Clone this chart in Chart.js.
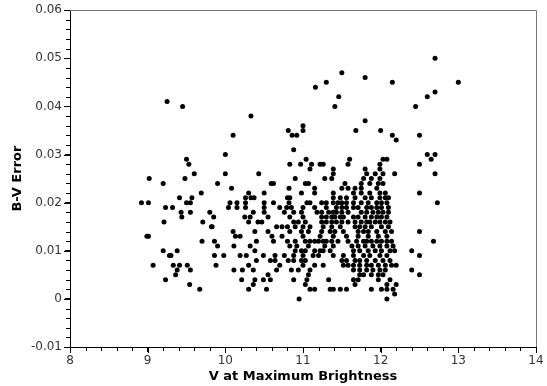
<!DOCTYPE html>
<html>
<head>
<meta charset="utf-8">
<script src="https://cdn.jsdelivr.net/npm/chart.js@4.4.0/dist/chart.umd.min.js"></script>
<style>
  html, body { margin: 0; padding: 0; background: #fff; }
</style>
</head>
<body>
<canvas id="scatter" width="547" height="386"></canvas>
<script>
// B-V error levels (values are quantised at 0.001) and the V magnitudes read at each level
const bvErrorLevels = [
  0.050, 0.047, 0.046, 0.045, 0.044, 0.043, 0.042, 0.041, 0.040, 0.038,
  0.037, 0.036, 0.035, 0.034, 0.033, 0.031, 0.030, 0.029, 0.028, 0.027,
  0.026, 0.025, 0.024, 0.023, 0.022, 0.021, 0.020, 0.019, 0.018, 0.017,
  0.016, 0.015, 0.014, 0.013, 0.012, 0.011, 0.010, 0.009, 0.008, 0.007,
  0.006, 0.005, 0.004, 0.003, 0.002, 0.001, 0.000
];
const vMagByLevel = [
  [12.70],
  [11.50],
  [11.80],
  [11.30, 12.15, 13.00],
  [11.16],
  [12.70],
  [11.46, 12.60],
  [9.25],
  [9.45, 11.41, 12.45],
  [10.33],
  [11.80],
  [11.00],
  [10.81, 11.00, 11.68, 12.00],
  [10.10, 10.86, 10.92, 12.15, 12.50],
  [12.20],
  [10.88],
  [10.00, 12.60, 12.70],
  [9.50, 11.04, 11.60, 12.03, 12.08, 12.65],
  [9.53, 10.83, 10.97, 11.11, 11.22, 11.26, 11.58, 11.99, 12.50],
  [11.09, 11.39, 11.80, 11.99],
  [9.60, 10.00, 10.43, 11.39, 11.82, 11.93, 12.03, 12.18, 12.70],
  [9.02, 9.48, 10.90, 11.28, 11.37, 11.78, 11.88, 11.99],
  [9.20, 9.90, 10.59, 10.62, 11.03, 11.07, 11.54, 11.75, 11.86, 11.97, 12.03],
  [10.08, 10.82, 11.15, 11.50, 11.58, 11.67, 11.75, 11.95],
  [9.69, 10.30, 10.50, 10.98, 11.15, 11.39, 11.65, 11.75, 11.86, 11.99, 12.06, 12.50],
  [9.41, 9.57, 10.26, 10.33, 10.37, 10.80, 10.83, 11.39, 11.48, 11.56, 11.67, 11.80, 11.88, 11.99, 12.06, 12.10],
  [8.92, 9.01, 9.50, 9.55, 10.06, 10.15, 10.26, 10.50, 10.62, 10.82, 11.05, 11.09, 11.24, 11.30, 11.39, 11.45, 11.50, 11.56, 11.65, 11.75, 11.84, 11.95, 12.01, 12.08, 12.73],
  [9.23, 9.32, 10.04, 10.15, 10.26, 10.50, 10.70, 10.79, 10.85, 11.00, 11.15, 11.30, 11.43, 11.50, 11.56, 11.65, 11.71, 11.82, 11.88, 11.95, 12.01, 12.10],
  [9.43, 9.55, 9.80, 10.36, 10.50, 10.76, 10.88, 10.98, 11.18, 11.24, 11.33, 11.39, 11.43, 11.50, 11.58, 11.75, 11.82, 11.90, 11.97, 12.03, 12.10],
  [9.44, 9.85, 10.25, 10.32, 10.55, 10.83, 11.00, 11.24, 11.30, 11.37, 11.41, 11.48, 11.52, 11.65, 11.71, 11.80, 11.88, 11.95, 12.01, 12.08],
  [9.21, 9.71, 10.30, 10.42, 10.47, 10.88, 10.94, 11.03, 11.24, 11.30, 11.37, 11.43, 11.50, 11.58, 11.67, 11.75, 11.82, 11.86, 11.93, 11.99, 12.06, 12.12],
  [9.82, 9.83, 10.66, 10.73, 10.80, 10.90, 11.00, 11.09, 11.26, 11.37, 11.48, 11.67, 11.73, 11.80, 11.88, 12.01, 12.10],
  [10.10, 10.38, 10.55, 10.83, 10.98, 11.07, 11.24, 11.35, 11.41, 11.52, 11.71, 11.78, 11.84, 11.95, 12.06, 12.14, 12.50],
  [8.99, 9.01, 10.13, 10.19, 10.60, 10.73, 11.00, 11.22, 11.39, 11.56, 11.71, 11.84, 11.97, 12.08],
  [9.70, 9.86, 10.40, 10.62, 10.80, 10.90, 11.03, 11.09, 11.15, 11.20, 11.26, 11.30, 11.37, 11.45, 11.58, 11.69, 11.78, 11.82, 11.88, 11.95, 12.01, 12.08, 12.14, 12.68],
  [9.90, 10.11, 10.32, 10.83, 10.92, 11.07, 11.28, 11.39, 11.63, 11.71, 11.80, 11.90, 11.99, 12.08, 12.16],
  [9.20, 9.38, 10.38, 10.90, 10.98, 11.03, 11.15, 11.22, 11.26, 11.35, 11.65, 11.73, 11.84, 11.93, 12.01, 12.12, 12.18, 12.40],
  [9.28, 9.30, 9.86, 9.98, 10.19, 10.27, 10.49, 10.64, 10.76, 10.88, 11.00, 11.13, 11.20, 11.39, 11.52, 11.65, 11.78, 11.86, 11.99, 12.08, 12.50],
  [10.40, 10.58, 10.64, 10.81, 10.88, 10.98, 11.03, 11.50, 11.56, 11.67, 11.73, 11.82, 11.93, 12.03, 12.12],
  [9.07, 9.33, 9.41, 9.51, 9.88, 10.30, 10.70, 11.00, 11.15, 11.26, 11.52, 11.58, 11.65, 11.73, 11.82, 11.88, 11.97, 12.06, 12.14, 12.20],
  [9.38, 9.55, 10.11, 10.22, 10.36, 10.66, 10.85, 10.94, 11.09, 11.65, 11.73, 11.82, 11.90, 11.99, 12.06, 12.40],
  [9.36, 10.55, 11.07, 11.73, 11.78, 11.88, 11.97, 12.03, 12.50],
  [9.23, 10.21, 10.38, 10.49, 10.58, 10.88, 11.05, 11.33, 11.65, 11.71, 11.97, 12.12],
  [9.54, 10.36, 11.03, 11.67, 12.08, 12.20],
  [9.67, 10.30, 10.53, 11.09, 11.15, 11.35, 11.39, 11.48, 11.56, 11.88, 12.01, 12.08, 12.16],
  [12.18],
  [10.95, 12.08]
];

const xTicks = [8, 9, 10, 11, 12, 13, 14];
const yTicks = [-0.01, 0, 0.01, 0.02, 0.03, 0.04, 0.05, 0.06];

const points = [];
bvErrorLevels.forEach((err, i) => {
  vMagByLevel[i].forEach(v => points.push({ x: v, y: err }));
});

// axis ticks (major + minor) and the grey top/right frame
const frameAndTicks = {
  id: 'frameAndTicks',
  afterDraw(chart) {
    const { ctx, chartArea: a, scales: { x, y } } = chart;
    ctx.save();
    ctx.lineWidth = 1;
    ctx.strokeStyle = '#777';
    ctx.beginPath();
    ctx.moveTo(a.left, Math.round(a.top) + 0.5);
    ctx.lineTo(Math.round(a.right) + 0.5, Math.round(a.top) + 0.5);
    ctx.lineTo(Math.round(a.right) + 0.5, a.bottom);
    ctx.stroke();

    ctx.strokeStyle = '#000';
    ctx.beginPath();
    const bottom = Math.round(a.bottom);
    const left = Math.round(a.left);
    for (let k = 0; k <= 30; k++) {
      const len = k % 5 === 0 ? 6 : 4;
      const px = Math.round(x.getPixelForValue(8 + k * 0.2)) + 0.5;
      ctx.moveTo(px, bottom);
      ctx.lineTo(px, bottom + len);
    }
    for (let k = 0; k <= 35; k++) {
      const len = k % 5 === 0 ? 6 : 4;
      const py = Math.round(y.getPixelForValue(-0.01 + k * 0.002)) + 0.5;
      ctx.moveTo(left - len, py);
      ctx.lineTo(left, py);
    }
    ctx.stroke();
    ctx.restore();
  }
};

const tickFont = { family: 'DejaVu Sans', size: 12 };
const titleFont = { family: 'DejaVu Sans', size: 13, weight: 'bold' };

new Chart(document.getElementById('scatter').getContext('2d'), {
  type: 'scatter',
  data: {
    datasets: [{
      data: points,
      backgroundColor: '#000',
      borderWidth: 0,
      pointRadius: 2.5,
      pointHoverRadius: 2.5
    }]
  },
  options: {
    responsive: false,
    animation: false,
    layout: { padding: { top: 10, right: 11, left: 0, bottom: 0 } },
    plugins: {
      legend: { display: false },
      tooltip: { enabled: false }
    },
    scales: {
      x: {
        type: 'linear',
        min: xTicks[0],
        max: xTicks[xTicks.length - 1],
        afterFit(scale) { scale.height = 39; },
        afterBuildTicks(scale) { scale.ticks = xTicks.map(v => ({ value: v })); },
        ticks: { font: tickFont, color: '#333', padding: 2 },
        grid: { drawOnChartArea: false, tickLength: 5, color: '#000' },
        border: { color: '#000', width: 1 },
        title: {
          display: true,
          text: 'V at Maximum Brightness',
          font: titleFont,
          color: '#000',
          padding: { top: 0, bottom: 2 }
        }
      },
      y: {
        type: 'linear',
        min: yTicks[0],
        max: yTicks[yTicks.length - 1],
        afterFit(scale) { scale.width = 70; },
        afterBuildTicks(scale) { scale.ticks = yTicks.map(v => ({ value: v })); },
        ticks: {
          font: tickFont,
          color: '#333',
          padding: 3,
          callback: v => String(Math.round(v * 100) / 100)
        },
        grid: { drawOnChartArea: false, tickLength: 5, color: '#000' },
        border: { color: '#000', width: 1 },
        title: {
          display: true,
          text: 'B-V Error',
          font: titleFont,
          color: '#000',
          padding: { top: 10, bottom: 4 }
        }
      }
    }
  },
  plugins: [frameAndTicks]
});
</script>
</body>
</html>
